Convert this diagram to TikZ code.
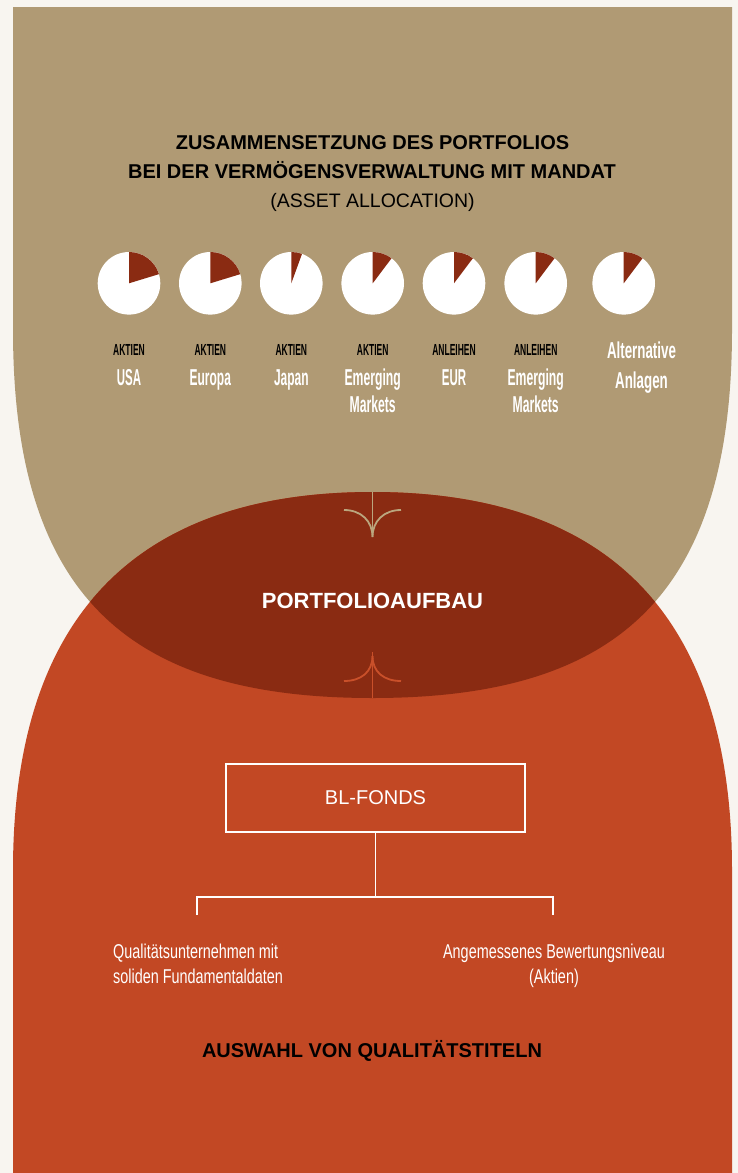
\documentclass[tikz,border=0pt]{standalone}
\usepackage{fontspec}
\setmainfont{Liberation Sans}
\usepackage{graphicx}
\definecolor{bgc}{HTML}{F8F5F0}
\definecolor{tanc}{HTML}{B09A74}
\definecolor{redc}{HTML}{C24824}
\definecolor{darkc}{HTML}{8A2B12}
\definecolor{arrowtan}{HTML}{BBA67E}
\definecolor{arrowred}{HTML}{C9502A}
\newcommand\fsz[1]{\fontsize{#1}{#1}\selectfont}
\newcommand\cnd[2]{\scalebox{#1}[1]{#2}}
\newcommand\tanpath{(13,7) -- (732,7) -- (732,330) .. controls (732,600) and (612.5,698) .. (372.5,698) .. controls (132.5,698) and (13,600) .. (13,330) -- cycle}
\newcommand\redpath{(13,1173) -- (13,870) .. controls (13,600) and (152.5,492) .. (372.5,492) .. controls (592.5,492) and (732,600) .. (732,870) -- (732,1173) -- cycle}
\begin{document}
\begin{tikzpicture}[x=1pt,y=-1pt,
  title/.style={font=\fsz{20}\bfseries, text=black, inner sep=0pt, anchor=base},
  subtitle/.style={font=\fsz{19.5}, text=black, inner sep=0pt, anchor=base},
  smalllab/.style={font=\fsz{16}\bfseries, text=black, inner sep=0pt, anchor=base},
  pielab/.style={font=\fsz{23}\bfseries, text=white, inner sep=0pt, anchor=base},
  pieslice/.style={fill=darkc},
  piedisc/.style={circle, fill=white, minimum size=62.6pt, inner sep=0pt},
  arrtan/.style={draw=arrowtan, line width=1.8pt},
  arrred/.style={draw=arrowred, line width=1.8pt},
  treeline/.style={draw=white, line width=1.3pt},
  bodylab/.style={font=\fsz{20}, text=white, inner sep=0pt},
]
\useasboundingbox (0,0) rectangle (738,1173);
\fill[bgc] (0,0) rectangle (738,1173);
\fill[tanc] \tanpath;
\fill[redc] \redpath;
\begin{scope}
  \clip \tanpath;
  \fill[darkc] \redpath;
\end{scope}

% titles
\node[title] (t1) at (372.5,149) {ZUSAMMENSETZUNG DES PORTFOLIOS};
\node[title] (t2) at (372,178) {BEI DER VERMÖGENSVERWALTUNG MIT MANDAT};
\node[subtitle] (t3) at (372.5,207) {(ASSET ALLOCATION)};

% pies
\foreach \n/\cx/\ang in {usa/129/73, eur/210.3/73, jap/291.3/20, emk/372.7/37, anl/454/37, aem/535.7/37, alt/623.7/37} {
  \node[piedisc] (pie\n) at (\cx,283.3) {};
  \fill[pieslice] (pie\n.center) -- ++(-90:31.3) arc[start angle=-90, end angle=-90+\ang, radius=31.3] -- cycle;
}

% pie labels
\node[smalllab] (l1a) at (129,355) {\cnd{0.53}{AKTIEN}};
\node[pielab] (l1b) at (129,385) {\cnd{0.5}{USA}};
\node[smalllab] (l2a) at (210.3,355) {\cnd{0.53}{AKTIEN}};
\node[pielab] (l2b) at (210.3,385) {\cnd{0.52}{Europa}};
\node[smalllab] (l3a) at (291.3,355) {\cnd{0.53}{AKTIEN}};
\node[pielab] (l3b) at (291.3,385) {\cnd{0.52}{Japan}};
\node[smalllab] (l4a) at (372.7,355) {\cnd{0.53}{AKTIEN}};
\node[pielab] (l4b) at (372.7,385) {\cnd{0.53}{Emerging}};
\node[pielab] (l4c) at (372.7,412) {\cnd{0.53}{Markets}};
\node[smalllab] (l5a) at (454,355) {\cnd{0.53}{ANLEIHEN}};
\node[pielab] (l5b) at (454,385) {\cnd{0.5}{EUR}};
\node[smalllab] (l6a) at (535.7,355) {\cnd{0.53}{ANLEIHEN}};
\node[pielab] (l6b) at (535.7,385) {\cnd{0.53}{Emerging}};
\node[pielab] (l6c) at (535.7,412) {\cnd{0.53}{Markets}};
\node[pielab] (l7a) at (641.5,358.5) {\cnd{0.58}{Alternative}};
\node[pielab] (l7b) at (641.5,388.5) {\cnd{0.58}{Anlagen}};

% arrows into the overlap
\coordinate (a1top) at (372.5,492);
\coordinate (a1tip) at (372.5,537);
\coordinate (a1l) at (344,510);
\coordinate (a1r) at (401,510);
\draw[arrtan] (a1top) -- (a1tip);
\draw[arrtan] (a1l) .. controls +(17,0) and +(0,-16) .. (a1tip);
\draw[arrtan] (a1r) .. controls +(-17,0) and +(0,-16) .. (a1tip);

\coordinate (a2bot) at (372.5,698);
\coordinate (a2top) at (372.5,652);
\coordinate (a2tip) at (372.5,656);
\coordinate (a2l) at (344,681);
\coordinate (a2r) at (401,681);
\draw[arrred] (a2top) -- (a2bot);
\draw[arrred] (a2l) .. controls +(17,0) and +(0,16) .. (a2tip);
\draw[arrred] (a2r) .. controls +(-17,0) and +(0,16) .. (a2tip);

\node[font=\fsz{22}\bfseries, text=white, inner sep=0pt, anchor=base] (pa) at (372.5,608) {PORTFOLIOAUFBAU};

% BL-FONDS tree
\node[draw=white, line width=1.3pt, minimum width=299pt, minimum height=68pt, inner sep=0pt, font=\fsz{20}, text=white] (box) at (375.5,798) {BL-FONDS};
\coordinate (hl) at (197,897);
\coordinate (hr) at (553,897);
\coordinate (hl2) at (197,915);
\coordinate (hr2) at (553,915);
\draw[treeline] (box.south) -- (box.south |- hl);
\draw[treeline] (hl2) -- (hl) -- (hr) -- (hr2);

\node[bodylab, anchor=base west] (q1) at (113,958) {\cnd{0.72}{Qualitätsunternehmen mit}};
\node[bodylab, anchor=base west] (q2) at (113,983) {\cnd{0.72}{soliden Fundamentaldaten}};
\node[bodylab, anchor=base] (b1) at (554,958) {\cnd{0.72}{Angemessenes Bewertungsniveau}};
\node[bodylab, anchor=base] (b2) at (554,983) {\cnd{0.72}{(Aktien)}};

\node[title] (aw) at (372,1057) {AUSWAHL VON QUALITÄTSTITELN};
\end{tikzpicture}
\end{document}
